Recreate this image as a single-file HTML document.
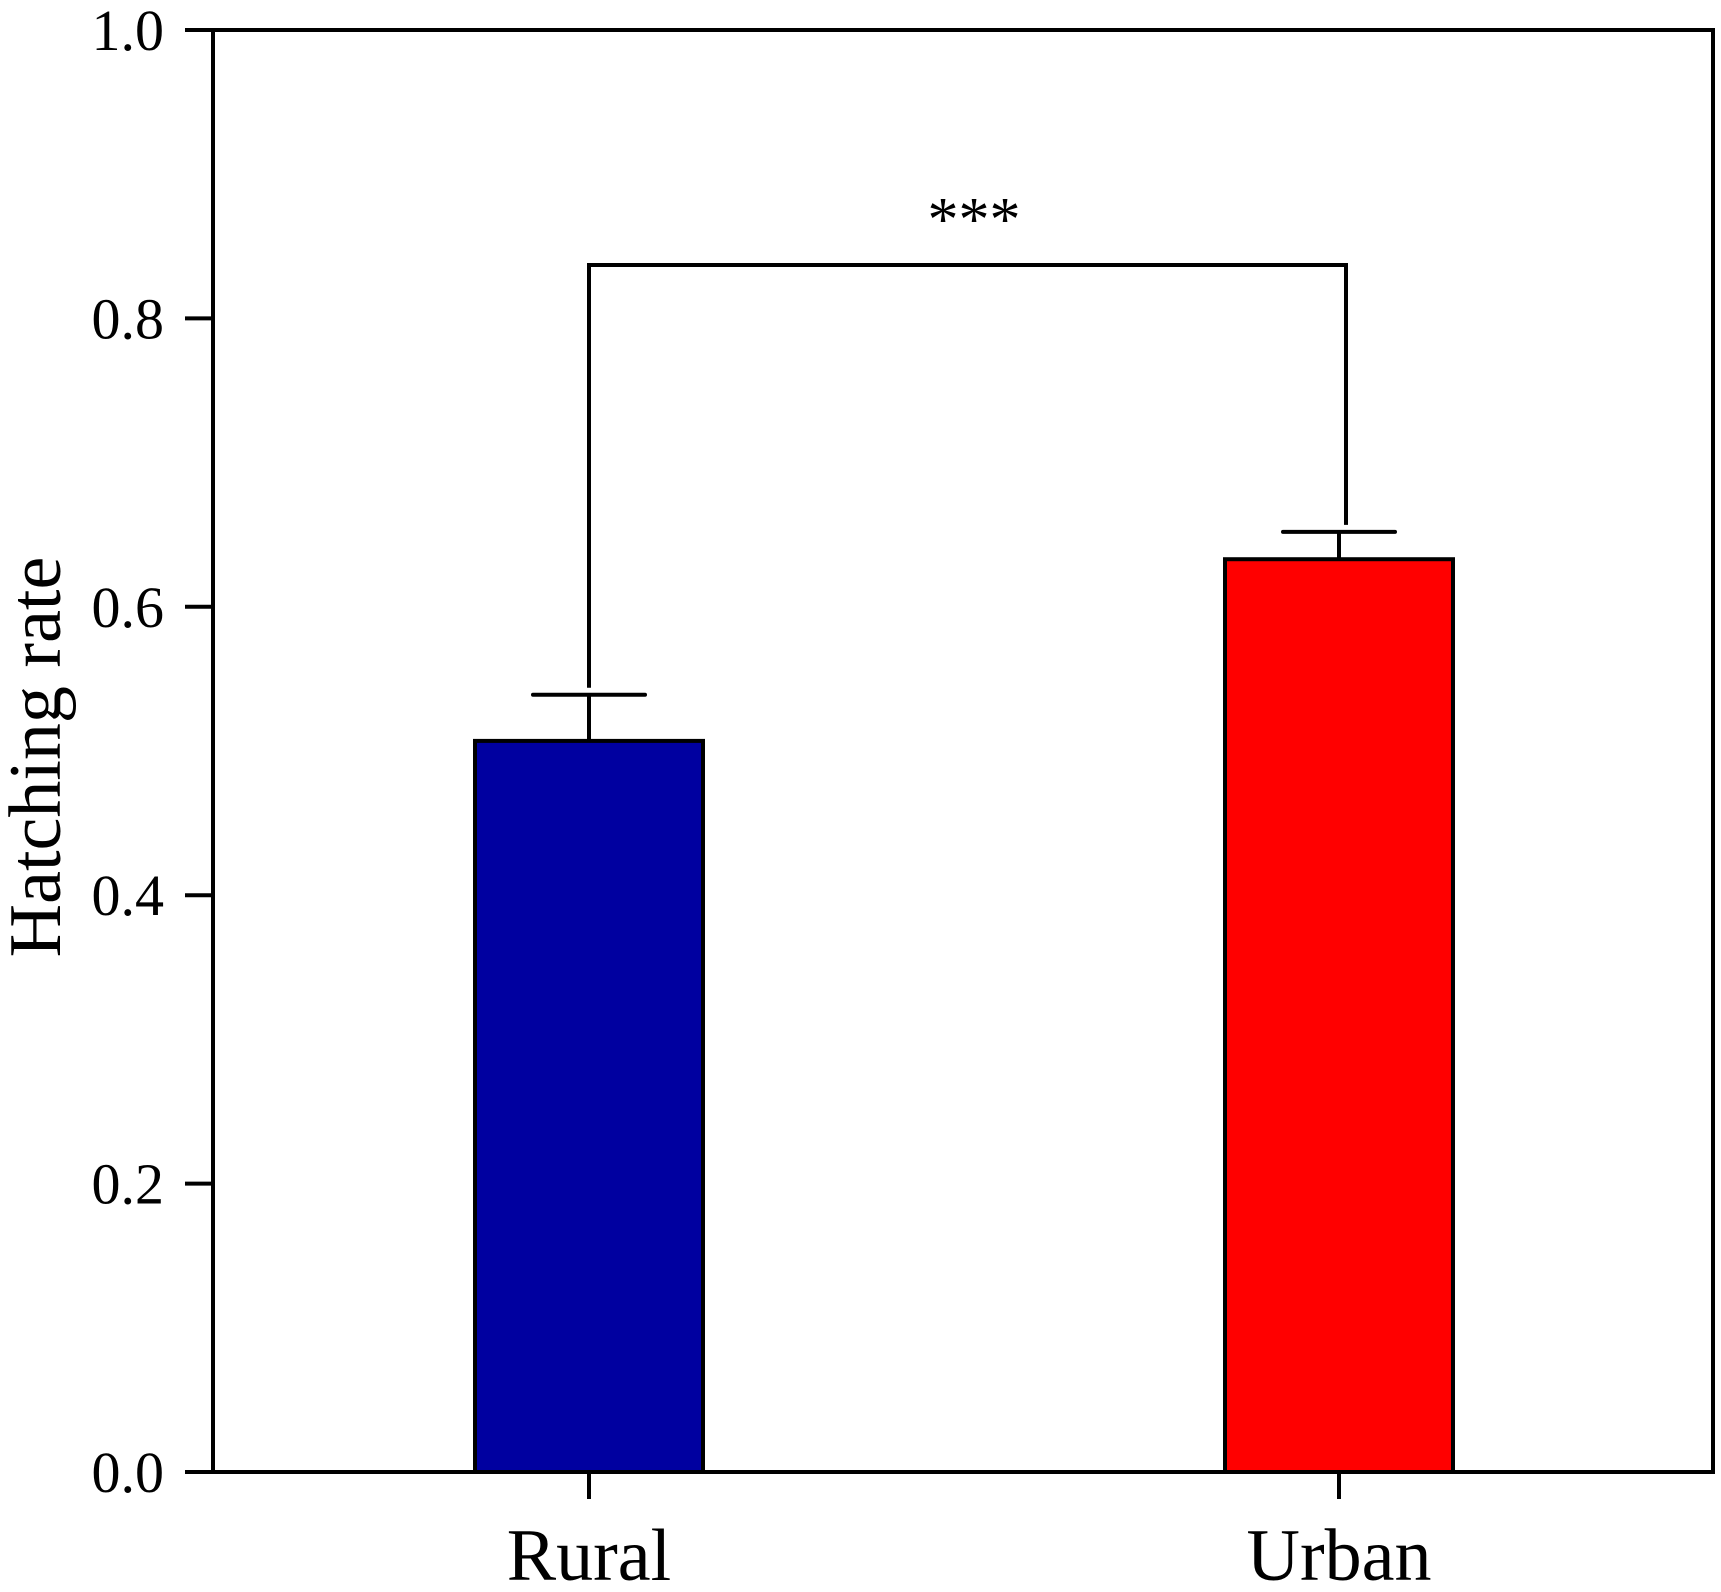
<!DOCTYPE html>
<html><head><meta charset="utf-8"><style>
html,body{margin:0;padding:0;background:#fff;}
svg{display:block;font-family:"Liberation Serif",serif;}
</style></head><body>
<svg id="chart" width="1721" height="1592" viewBox="0 0 1721 1592" xmlns="http://www.w3.org/2000/svg">
<g id="axes"></g>
<g id="bars"></g>
<text transform="translate(60,757) rotate(-90)" text-anchor="middle" font-size="74">Hatching rate</text>
</svg>
<script>
const categories = ["Rural", "Urban"];
const values = [0.507, 0.633];
const errors = [0.032, 0.019];
const colors = ["#0000a0", "#ff0000"];
const yTicks = [0.0, 0.2, 0.4, 0.6, 0.8, 1.0];
const tickLabels = ["0.0", "0.2", "0.4", "0.6", "0.8", "1.0"];
const bracketValue = 0.837;
const sigLabel = "***";

const NS = "http://www.w3.org/2000/svg";
const L = 213, R = 1713, T = 30, B = 1472;
const y = v => B - v * (B - T);
const centers = [589, 1339];
const x = i => centers[i];
const barW = 228;

function mk(tag, attrs, parent) {
  const e = document.createElementNS(NS, tag);
  for (const k in attrs) e.setAttribute(k, attrs[k]);
  parent.appendChild(e);
  return e;
}
const axes = document.getElementById('axes');
const bars = document.getElementById('bars');

categories.forEach((c, i) => {
  const cx = x(i);
  const r = mk('rect', {x: cx - barW / 2, y: y(values[i]), width: barW, height: B - y(values[i]), fill: colors[i], stroke: '#000', 'stroke-width': 4}, bars);
  
  
  const top = y(values[i] + errors[i]);
  const ev = mk('line', {x1: cx, x2: cx, y1: y(values[i]), y2: top, stroke: '#000', 'stroke-width': 4}, bars);
  
  
  const cap = mk('line', {x1: cx - 56, x2: cx + 56, y1: top, y2: top, stroke: '#000', 'stroke-width': 4, 'stroke-linecap': 'round'}, bars);
  
  
  const tk = mk('line', {x1: cx, x2: cx, y1: B, y2: B + 27, stroke: '#000', 'stroke-width': 4}, axes);
  
  
  const lb = mk('text', {x: cx, y: 1580, 'text-anchor': 'middle', 'font-size': 74}, axes);
  lb.textContent = c;
  
  
});

// significance bracket
const bY = y(bracketValue);
const br = mk('polyline', {points: [x(0), y(values[0] + errors[0]) - 7, x(0), bY, x(1) + 7, bY, x(1) + 7, y(values[1] + errors[1]) - 7].join(' '), fill: 'none', stroke: '#000', 'stroke-width': 4}, bars);


const st = mk('text', {x: (x(0) + x(1)) / 2 + 10, y: 240, 'text-anchor': 'middle', 'font-size': 62}, bars);
st.textContent = sigLabel;



yTicks.forEach((v, i) => {
  const t = mk('line', {x1: L - 28, x2: L, y1: y(v), y2: y(v), stroke: '#000', 'stroke-width': 4}, axes);
  
  
  const tl = mk('text', {x: 164, y: y(v) + 20, 'text-anchor': 'end', 'font-size': 58}, axes);
  tl.textContent = tickLabels[i];
  
  
});

const frame = mk('rect', {x: L, y: T, width: R - L, height: B - T, fill: 'none', stroke: '#000', 'stroke-width': 4}, axes);


</script>
</body></html>
